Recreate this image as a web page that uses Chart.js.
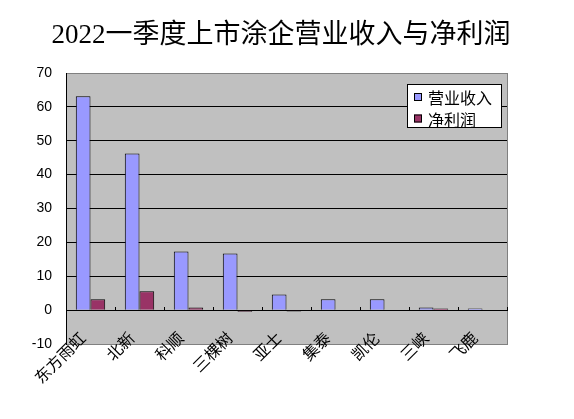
<!DOCTYPE html>
<html>
<head>
<meta charset="utf-8">
<script src="https://cdn.jsdelivr.net/npm/chart.js@4/dist/chart.umd.min.js"></script>
<style>
  html, body { margin: 0; padding: 0; background: #fff; }
  #wrap { width: 574px; height: 419px; }
</style>
</head>
<body>
<div id="wrap"><canvas id="c" width="574" height="419"></canvas></div>
<script>
const chartTitle = "2022一季度上市涂企营业收入与净利润";
const companies = ["东方雨虹", "北新", "科顺", "三棵树", "亚士", "集泰", "凯伦", "三峡", "飞鹿"];
const revenue = [63.1, 46.2, 17.3, 16.7, 4.6, 3.2, 3.2, 0.8, 0.5];
const netProfit = [3.2, 5.6, 0.8, -0.5, -0.4, 0, 0, 0.5, 0];
const seriesNames = ["营业收入", "净利润"];
const yTicks = { min: -10, max: 70, step: 10 };

const cjk = '"Noto Sans CJK SC", sans-serif';

// gray plot area + frame, title text
const plotBg = {
  id: "plotBg",
  beforeDraw(chart) {
    const { ctx, chartArea: a } = chart;
    ctx.save();
    ctx.fillStyle = "#c0c0c0";
    ctx.fillRect(a.left, a.top, a.right - a.left, a.bottom - a.top);
    ctx.strokeStyle = "#808080";
    ctx.lineWidth = 1;
    ctx.strokeRect(a.left + 0.5, a.top + 0.5, a.right - a.left, a.bottom - a.top);
    ctx.fillStyle = "#000";
    ctx.font = '27px "Liberation Serif", "Noto Sans CJK SC", serif';
    ctx.textAlign = "center";
    ctx.textBaseline = "middle";
    ctx.fillText(chartTitle, 281, 36);
    ctx.restore();
  }
};

// boxed legend inside the plot, Excel style
const boxLegend = {
  id: "boxLegend",
  afterDraw(chart) {
    const { ctx } = chart;
    const x = 407, y = 84, w = 94, h = 43;
    ctx.save();
    ctx.fillStyle = "#fff";
    ctx.fillRect(x, y, w, h);
    ctx.strokeStyle = "#000";
    ctx.lineWidth = 1;
    ctx.strokeRect(x + 0.5, y + 0.5, w, h);
    ctx.font = "16px " + cjk;
    ctx.textBaseline = "middle";
    ctx.textAlign = "left";
    chart.data.datasets.forEach((ds, i) => {
      const cy = y + 13 + i * 21.5;
      ctx.fillStyle = ds.backgroundColor;
      ctx.fillRect(x + 7, cy - 4, 8, 8);
      ctx.strokeRect(x + 7.5, cy - 3.5, 7, 7);
      ctx.fillStyle = "#000";
      ctx.fillText(ds.label, x + 21, cy + 1);
    });
    ctx.restore();
  }
};

new Chart(document.getElementById("c"), {
  type: "bar",
  data: {
    labels: companies,
    datasets: [
      { label: seriesNames[0], data: revenue, backgroundColor: "#9999ff", borderColor: "#000", borderWidth: 1 },
      { label: seriesNames[1], data: netProfit, backgroundColor: "#993366", borderColor: "#000", borderWidth: 1 }
    ]
  },
  options: {
    responsive: false,
    devicePixelRatio: 1,
    animation: false,
    layout: { padding: { top: 73, right: 67, bottom: 75, left: 0 } },
    datasets: { bar: { categoryPercentage: 0.6, barPercentage: 1 } },
    plugins: {
      legend: { display: false },
      title: { display: false },
      tooltip: { enabled: false }
    },
    scales: {
      x: {
        position: { y: 0 },
        grid: {
          drawOnChartArea: false,
          drawTicks: true,
          tickLength: -4,
          color: "#000",
          offset: true
        },
        border: { color: "#000", width: 1 },
        ticks: {
          autoSkip: false,
          minRotation: 45,
          maxRotation: 45,
          padding: 22,
          labelOffset: -8,
          color: "#000",
          font: { family: cjk, size: 16 }
        }
      },
      y: {
        min: yTicks.min,
        max: yTicks.max,
        afterFit(scale) { scale.width = 66; },
        grid: {
          drawTicks: false,
          color: ctx => (ctx.tick.value === yTicks.min || ctx.tick.value === yTicks.max) ? "rgba(0,0,0,0)" : "#000"
        },
        border: { color: "#000", width: 1 },
        ticks: {
          stepSize: yTicks.step,
          padding: 14,
          color: "#000",
          font: { family: '"Liberation Sans", Arial, sans-serif', size: 14 }
        }
      }
    }
  },
  plugins: [plotBg, boxLegend]
});
</script>
</body>
</html>
